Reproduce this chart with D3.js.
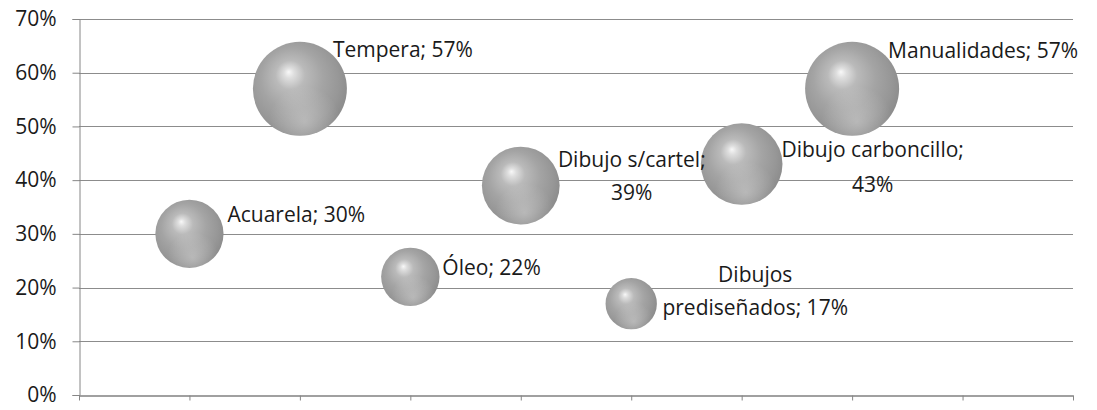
<!DOCTYPE html>
<html>
<head>
<meta charset="utf-8">
<script src="https://cdn.jsdelivr.net/npm/d3@7"></script>
<style>
  html, body { margin: 0; padding: 0; background: #fff; }
  svg { display: block; }
  text { font-family: "Open Sans", "Noto Sans", sans-serif; fill: #1a1a1a; }
</style>
</head>
<body>
<svg id="chart" width="1097" height="410"></svg>
<script>
// ---- data ----
const categories = ["Acuarela", "Tempera", "Óleo", "Dibujo s/cartel", "Dibujos prediseñados", "Dibujo carboncillo", "Manualidades"];
const xValues    = [1, 2, 3, 4, 5, 6, 7];
const yValues    = [0.30, 0.57, 0.22, 0.39, 0.17, 0.43, 0.57];
const sizes      = [30, 57, 22, 39, 17, 43, 57];
const labelLines = [
  ["Acuarela; 30%"],
  ["Tempera; 57%"],
  ["Óleo; 22%"],
  ["Dibujo s/cartel;", "39%"],
  ["Dibujos", "prediseñados; 17%"],
  ["Dibujo carboncillo;", "43%"],
  ["Manualidades; 57%"]
];
const yTicks = [0, 0.1, 0.2, 0.3, 0.4, 0.5, 0.6, 0.7];
const xTicks = [0, 1, 2, 3, 4, 5, 6, 7, 8, 9];

// ---- layout (label placement relative to bubble centre) ----
const labelLayout = [
  {dx: 38,  dy: [-12],         anchor: "start"},
  {dx: 33,  dy: [-32],         anchor: "start"},
  {dx: 32,  dy: [-2],          anchor: "start"},
  {dx: 111, dy: [-18.5, 14.5], anchor: "middle"},
  {dx: 124, dy: [-21.5, 11.5], anchor: "middle"},
  {dx: 131, dy: [-7, 28],      anchor: "middle"},
  {dx: 36,  dy: [-31],         anchor: "start"}
];

const svg = d3.select("#chart");
const pLeft = 79, pRight = 1073, pTop = 19, pBottom = 395;

const x = d3.scaleLinear().domain([0, 9]).range([pLeft, pRight]);
const y = d3.scaleLinear().domain([0, 0.7]).range([pBottom, pTop]);
const r = d3.scaleSqrt().domain([0, 57]).range([0, 47]);

// gradients
const defs = svg.append("defs");
const g1 = defs.append("radialGradient").attr("id", "ball")
  .attr("cx", "45%").attr("cy", "45%").attr("r", "60%")
  .attr("fx", "38%").attr("fy", "32%");
[["0%", "#f8f8f8"], ["9%", "#dedede"], ["26%", "#bababa"], ["55%", "#a4a4a4"], ["80%", "#979797"], ["100%", "#898989"]]
  .forEach(([o, c]) => g1.append("stop").attr("offset", o).attr("stop-color", c));
const g2 = defs.append("radialGradient").attr("id", "refl")
  .attr("cx", "55%").attr("cy", "85%").attr("r", "38%");
[["0%", "#ffffff", 0.3], ["100%", "#ffffff", 0]]
  .forEach(([o, c, a]) => g2.append("stop").attr("offset", o).attr("stop-color", c).attr("stop-opacity", a));

// gridlines
svg.append("g")
  .selectAll("line").data(yTicks.filter(d => d > 0)).join("line")
  .attr("x1", pLeft).attr("x2", pRight)
  .attr("y1", d => Math.round(y(d)) + 0.5).attr("y2", d => Math.round(y(d)) + 0.5)
  .attr("stroke", "#8c8c8c").attr("stroke-width", 1);

// y axis
const yAxis = svg.append("g")
  .attr("transform", `translate(${pLeft + 0.5},0)`)
  .call(d3.axisLeft(y).tickValues(yTicks).tickFormat(d3.format(".0%")).tickSize(7).tickPadding(16));
yAxis.select(".domain").attr("stroke", "#868686");
yAxis.selectAll(".tick line").attr("stroke", "#868686");
yAxis.selectAll(".tick text").attr("font-size", 21).attr("fill", "#1a1a1a")
  .attr("font-family", '"Open Sans", sans-serif');

// x axis (no labels)
const xAxis = svg.append("g")
  .attr("transform", `translate(0,${pBottom + 0.5})`)
  .call(d3.axisBottom(x).tickValues(xTicks).tickFormat("").tickSize(5).tickSizeOuter(0));
xAxis.select(".domain").attr("stroke", "#808080").attr("stroke-width", 1.6);
xAxis.selectAll(".tick line").attr("stroke", "#868686");

// bubbles
const pts = categories.map((c, i) => ({c, x: xValues[i], y: yValues[i], s: sizes[i], lines: labelLines[i], lay: labelLayout[i]}));
const bub = svg.append("g").selectAll("g").data(pts).join("g")
  .attr("transform", d => `translate(${x(d.x)},${y(d.y)})`);
bub.append("circle").attr("r", d => r(d.s)).attr("fill", "url(#ball)");
bub.append("circle").attr("r", d => r(d.s)).attr("fill", "url(#refl)");

// labels
const lab = svg.append("g").selectAll("text").data(pts).join("text")
  .attr("font-size", 21)
  .attr("text-anchor", d => d.lay.anchor);
lab.each(function(d) {
  const t = d3.select(this);
  d.lines.forEach((ln, k) => {
    t.append("tspan")
      .attr("x", x(d.x) + d.lay.dx)
      .attr("y", y(d.y) + d.lay.dy[k])
      .text(ln);
  });
});
</script>
</body>
</html>
